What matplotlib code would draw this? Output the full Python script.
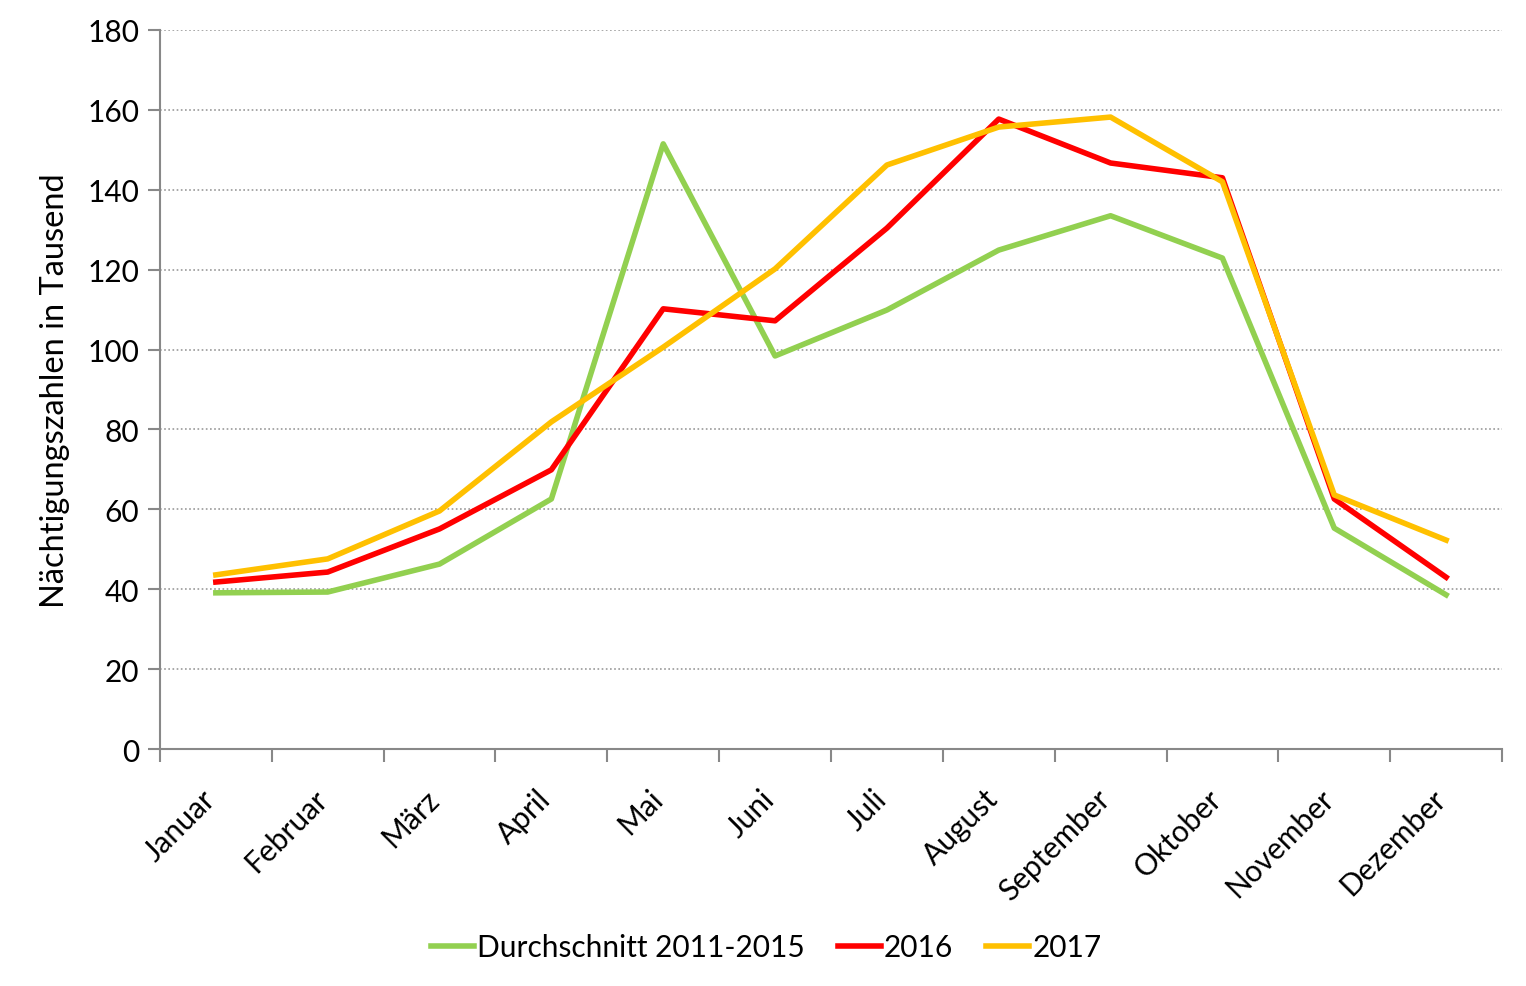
import matplotlib
matplotlib.use("Agg")
import matplotlib.pyplot as plt
import matplotlib.transforms as mtransforms

# --- Data ---
months = ["Januar", "Februar", "März", "April", "Mai", "Juni", "Juli",
          "August", "September", "Oktober", "November", "Dezember"]
avg_2011_2015 = [39.1, 39.3, 46.3, 62.6, 151.5, 98.4, 109.9, 124.9, 133.5, 122.9, 55.3, 38.6]
y2016 = [41.8, 44.3, 55.1, 69.9, 110.2, 107.2, 130.4, 157.7, 146.7, 143.0, 62.6, 43.0]
y2017 = [43.6, 47.6, 59.6, 81.9, 100.6, 120.2, 146.2, 155.7, 158.2, 142.0, 63.6, 52.3]

plt.rcParams["font.family"] = ["Lato", "DejaVu Sans"]
FS = 21.5

fig = plt.figure(figsize=(15.26, 9.87), dpi=100)
ax = fig.add_axes([0.1048, 0.2401, 0.8795, 0.7285])

x = list(range(len(months)))
ax.plot(x, avg_2011_2015, color="#92D050", lw=4, label="Durchschnitt 2011-2015")
ax.plot(x, y2016, color="#FF0000", lw=4, label="2016")
ax.plot(x, y2017, color="#FFC000", lw=4, label="2017")

ax.set_xlim(-0.5, len(months) - 0.5)
ax.set_ylim(0, 180)
ax.set_yticks(range(0, 181, 20))
ax.yaxis.grid(True, linestyle=(0, (1, 1.5)), color="#999999", lw=1.2)
ax.set_axisbelow(True)

# category boundaries as ticks, labels centred on categories
ax.set_xticks([i - 0.5 for i in range(len(months) + 1)])
ax.set_xticklabels([])
ax.set_xticks(x, minor=True)
ax.set_xticklabels(months, minor=True, rotation=45, ha="right",
                   rotation_mode="anchor", fontsize=FS)
ax.tick_params(axis="x", which="minor", length=0, pad=25)
ax.tick_params(axis="x", which="major", length=9, width=1.5, color="#888888")
ax.tick_params(axis="y", length=9, width=1.5, color="#888888", labelsize=FS, pad=6)
shift = mtransforms.ScaledTranslation(-15 / 100, 0, fig.dpi_scale_trans)
for lbl in ax.get_xticklabels(minor=True):
    lbl.set_transform(lbl.get_transform() + shift)

for side in ("top", "right"):
    ax.spines[side].set_visible(False)
for side in ("left", "bottom"):
    ax.spines[side].set_color("#888888")
    ax.spines[side].set_linewidth(1.5)

ax.set_ylabel("Nächtigungszahlen in Tausend", fontsize=23.5, labelpad=12)

fig.legend(loc="lower center", bbox_to_anchor=(0.502, -0.002), ncol=3, frameon=False,
           fontsize=FS, handlelength=1.45, handletextpad=0.1, columnspacing=1.1)

fig.savefig("out.png", dpi=100)
